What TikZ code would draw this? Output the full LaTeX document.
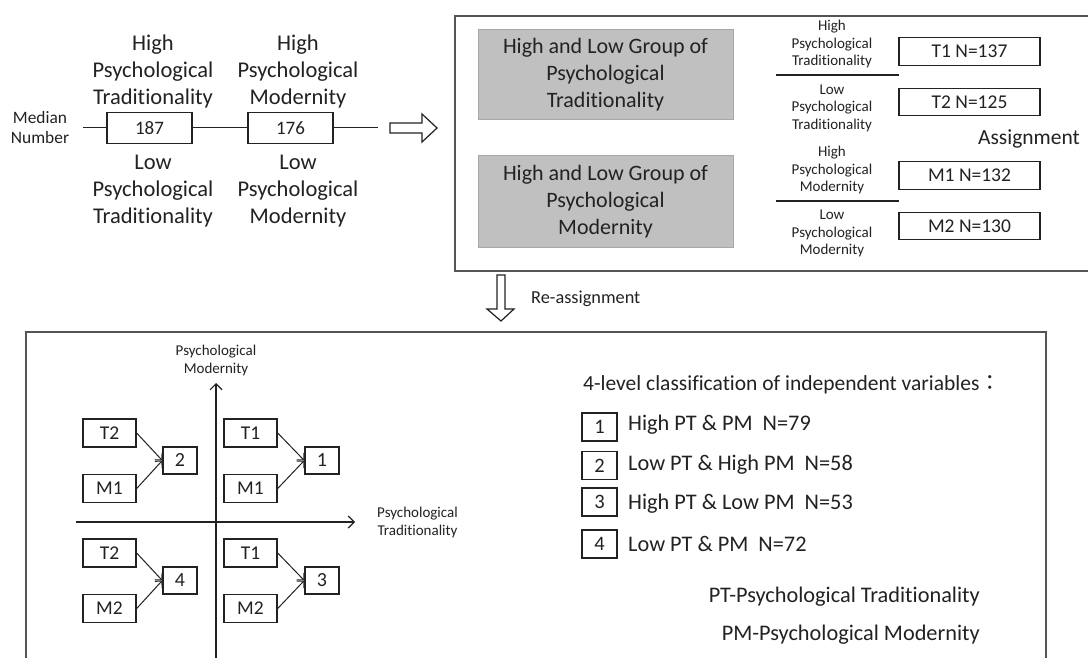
\documentclass[tikz,border=0pt]{standalone}
\usepackage{fontspec}
\setmainfont{Carlito}[Ligatures=NoCommon]
\newfontfamily\cjkfont{Noto Sans CJK TC}
\usetikzlibrary{arrows.meta}
\definecolor{ink}{HTML}{222222}
\definecolor{framec}{HTML}{555555}
\definecolor{grayfill}{HTML}{C0C0C0}
\definecolor{grayline}{HTML}{A8A8A8}
\tikzset{
  frame/.style={draw=framec, line width=1.8pt},
  bigtext/.style={align=center, inner sep=0pt, text=ink, font=\fontsize{22.5}{27}\selectfont},
  smalltext/.style={align=center, inner sep=0pt, text=ink, font=\fontsize{15}{17.5}\selectfont},
  medtext/.style={align=center, inner sep=0pt, text=ink, font=\fontsize{17.4}{19.5}\selectfont},
  listtext/.style={inner sep=0pt, text=ink, font=\fontsize{22.3}{24}\selectfont},
  graybox/.style={draw=grayline, fill=grayfill, line width=1pt, minimum width=255pt, minimum height=90pt, align=center, inner sep=0pt, text=ink, font=\fontsize{22}{27}\selectfont},
  medbox/.style={draw=ink, line width=1.2pt, minimum width=85pt, minimum height=31pt, inner sep=0pt, text=ink, font=\fontsize{19}{20}\selectfont},
  nbox/.style={draw=ink, line width=1.4pt, minimum width=141pt, minimum height=27.5pt, inner sep=0pt, text=ink, font=\fontsize{19.5}{22}\selectfont},
  qbox/.style={draw=ink, line width=1.4pt, minimum width=53pt, minimum height=28pt, inner sep=0pt, text=ink, font=\fontsize{19.5}{22}\selectfont},
  numbox/.style={draw=ink, line width=1.4pt, minimum width=34pt, minimum height=27pt, inner sep=0pt, text=ink, font=\fontsize{20}{22}\selectfont},
  lbox/.style={draw=ink, line width=1.4pt, minimum width=35pt, minimum height=28pt, inner sep=0pt, text=ink, font=\fontsize{20.5}{22}\selectfont},
  conn/.style={draw=ink, line width=1pt},
  arr/.style={draw=ink, line width=1pt, -{Straight Barb[length=5pt,width=10pt]}},
  axis/.style={draw=ink, line width=1.2pt, -{Straight Barb[length=6pt,width=12pt]}},
  blockarrow/.style={draw=ink, line width=1.2pt, fill=white, line join=miter},
}
\begin{document}
\begin{tikzpicture}[x=1pt,y=-1pt]
\useasboundingbox[fill=white] (0,0) rectangle (1088,658);

% ---------- top left: median split ----------
\node[medtext] (median) at (40,127.5) {Median\\Number};
\node[bigtext] (hpt) at (153,72) {High\\Psychological\\Traditionality};
\node[bigtext] (hpm) at (298,72) {High\\Psychological\\Modernity};
\node[bigtext] (lpt) at (153,191) {Low\\Psychological\\Traditionality};
\node[bigtext] (lpm) at (298,191) {Low\\Psychological\\Modernity};
\node[medbox] (b187) at (149.5,128) {187};
\node[medbox] (b176) at (290.5,128) {176};
\coordinate (lineL) at (83,128);
\coordinate (lineR) at (378,128);
\draw[conn] (lineL) -- (b187.west);
\draw[conn] (b187.east) -- (b176.west);
\draw[conn] (b176.east) -- (lineR);

% block arrow to the right
\draw[blockarrow] (390,123) -- (422,123) -- (422,114) -- (437,128) -- (422,142) -- (422,133) -- (390,133) -- cycle;

% ---------- top right frame ----------
\draw[frame] (455,16) rectangle (1100,271);
\node[graybox] (gT) at (605.5,75) {High and Low Group of\\Psychological\\Traditionality};
\node[graybox, minimum height=91pt] (gM) at (605.5,201.5) {High and Low Group of\\Psychological\\Modernity};

\node[smalltext] (shT) at (832,44.5) {High\\Psychological\\Traditionality};
\node[smalltext] (slT) at (832,108) {Low\\Psychological\\Traditionality};
\node[smalltext] (shM) at (832,170.5) {High\\Psychological\\Modernity};
\node[smalltext] (slM) at (832,233.5) {Low\\Psychological\\Modernity};
\coordinate (s1L) at (776,75);
\coordinate (s1R) at (899,75);
\coordinate (s2L) at (776,201);
\coordinate (s2R) at (899,201);
\draw[conn, line width=1.3pt] (s1L) -- (s1R);
\draw[conn, line width=1.3pt] (s2L) -- (s2R);

\node[nbox] (T1) at (969.5,51.5) {T1 N=137};
\node[nbox] (T2) at (969.5,102) {T2 N=125};
\node[nbox] (M1) at (969.5,175.5) {M1 N=132};
\node[nbox] (M2) at (969.5,226) {M2 N=130};
\node[bigtext, font=\fontsize{21.5}{27}\selectfont] (assign) at (1029,139) {Assignment};

% down arrow
\draw[blockarrow] (497,275) -- (505,275) -- (505,309) -- (514,309) -- (501,321) -- (487,309) -- (497,309) -- cycle;
\node[listtext, anchor=west, font=\fontsize{18.3}{21}\selectfont] (reassign) at (531,299) {Re-assignment};

% ---------- bottom frame ----------
\draw[frame] (26,332) rectangle (1046,680);

% axes
\coordinate (vB) at (216,665);
\coordinate (vT) at (216,383);
\coordinate (hL) at (76,522);
\coordinate (hR) at (355,522);
\draw[axis] (vB) -- (vT);
\draw[axis] (hL) -- (hR);
\node[smalltext] (axPM) at (216,360.5) {Psychological\\Modernity};
\node[smalltext] (axPT) at (417.5,522.5) {Psychological\\Traditionality};

% quadrant 2 (upper left)
\node[qbox] (qT2a) at (109.5,433) {T2};
\node[qbox] (qM1a) at (109.5,488.5) {M1};
\node[numbox] (n2) at (180,460.5) {2};
% quadrant 1 (upper right)
\node[qbox] (qT1a) at (250.5,433) {T1};
\node[qbox] (qM1b) at (250.5,488.5) {M1};
\node[numbox] (n1) at (322,460.5) {1};
% quadrant 4 (lower left)
\node[qbox] (qT2b) at (109.5,553) {T2};
\node[qbox] (qM2a) at (109.5,608.5) {M2};
\node[numbox] (n4) at (180,580.5) {4};
% quadrant 3 (lower right)
\node[qbox] (qT1b) at (250.5,553) {T1};
\node[qbox] (qM2b) at (250.5,608.5) {M2};
\node[numbox] (n3) at (322,580.5) {3};

\draw[arr] (qT2a.east) -- (n2.west);
\draw[arr] (qM1a.east) -- (n2.west);
\draw[arr] (qT1a.east) -- (n1.west);
\draw[arr] (qM1b.east) -- (n1.west);
\draw[arr] (qT2b.east) -- (n4.west);
\draw[arr] (qM2a.east) -- (n4.west);
\draw[arr] (qT1b.east) -- (n3.west);
\draw[arr] (qM2b.east) -- (n3.west);

% legend
\node[listtext, anchor=west, font=\fontsize{21.5}{24}\selectfont] (title) at (583,385) {4-level classification of independent variables{\cjkfont ：}};
\node[lbox] (l1) at (599.5,427) {1};
\node[lbox] (l2) at (599.5,465.5) {2};
\node[lbox] (l3) at (599.5,502) {3};
\node[lbox] (l4) at (599.5,544) {4};
\node[listtext, anchor=west] (t1) at (628,425) {High PT \& PM\ \ N=79};
\node[listtext, anchor=west] (t2) at (628,465) {Low PT \& High PM\ \ N=58};
\node[listtext, anchor=west] (t3) at (628,504) {High PT \& Low PM\ \ N=53};
\node[listtext, anchor=west] (t4) at (628,544) {Low PT \& PM\ \ N=72};
\node[listtext, anchor=east] (ptdef) at (980,597) {PT-Psychological Traditionality};
\node[listtext, anchor=east] (pmdef) at (980,635) {PM-Psychological Modernity};
\end{tikzpicture}
\end{document}
